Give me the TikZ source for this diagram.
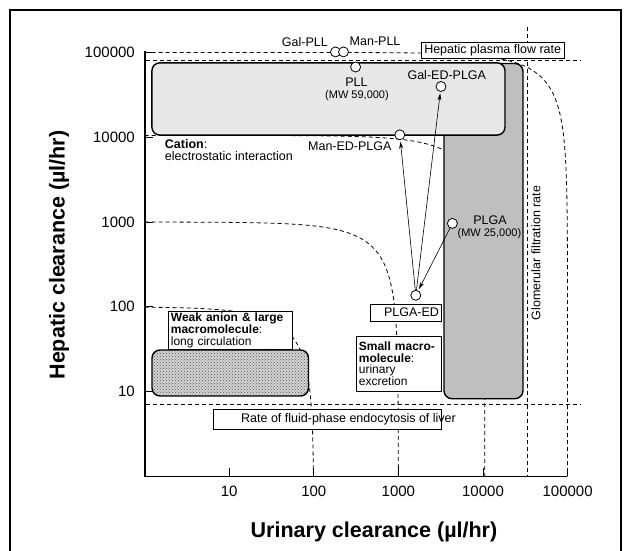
\documentclass[tikz,border=0pt]{standalone}
\usepackage{fontspec}
\setmainfont{Liberation Sans}
\usetikzlibrary{arrows.meta,patterns}
\newcommand\isocl[2]{%
  \draw[dl] plot[domain=0:#2, samples=90, variable=\t] ({\t},{#1+log10(1-10^(\t-#1))})
    -- plot[domain=#2:0, samples=90, variable=\t] ({#1+log10(1-10^(\t-#1))},{\t});}
\begin{document}
\begin{tikzpicture}[x=1pt,y=-1pt,
  lab/.style={font=\fontsize{12.5}{14}\selectfont, inner sep=0pt},
  smalllab/.style={font=\fontsize{11}{12}\selectfont, inner sep=0pt},
  ticklab/.style={font=\fontsize{15}{16}\selectfont, inner sep=0pt},
  axtitle/.style={font=\bfseries\fontsize{21.5}{24}\selectfont, inner sep=0pt},
  box/.style={draw, fill=white, line width=0.8pt},
  dl/.style={dash pattern=on 4pt off 3pt, line width=0.8pt},
  marker/.style={circle, draw, fill=white, minimum size=10pt, inner sep=0pt, line width=0.8pt},
  arr/.style={-{Stealth[length=7pt,width=4pt]}, line width=0.6pt, shorten >=1.5pt},
  region/.style={rounded corners=8pt, line width=1.4pt}]
\useasboundingbox (0,0) rectangle (630,550);
% frame
\draw[line width=2pt] (10,551) -- (10,10) -- (621,10) -- (621,551);
% iso-clearance curves in log-log data coordinates
\begin{scope}[shift={(144.6,476.4)}, x=84.6pt, y=84.8pt]
  \isocl{2}{1.699}
  \isocl{3}{2.699}
  \isocl{4.0212}{3.7202}
  \isocl{5}{4.699}
\end{scope}
% straight reference lines
\draw[dl] (146,60.7) -- (580.5,60.7);
\draw[dl] (527.5,27) -- (527.5,476.4);
\draw[dl] (146,404.7) -- (580.5,404.7);
% regions
\draw[region, fill=gray!50] (444,63.5) rectangle (523,398.7);
\draw[region, fill=gray!18] (151.9,62.8) rectangle (505,135.1);
\fill[rounded corners=8pt, gray!35] (152,350) rectangle (308.5,396);
\fill[rounded corners=8pt, pattern=crosshatch dots, pattern color=gray!70!black] (152,350) rectangle (308.5,396);
\draw[region] (152,350) rectangle (308.5,396);
% axes
\draw[line width=1.4pt] (145,50.5) -- (145,476.4) -- (567,476.4);
\begin{scope}[shift={(144.6,476.4)}, x=84.6pt, y=84.8pt]
  \foreach \i in {1,...,5} {
    \draw[line width=1pt] (\i,0) -- ++(0,0.1);
    \draw[line width=1pt] (0,\i) -- ++(0.1,0);
  }
\end{scope}
% tick labels
\node[ticklab, anchor=east] (y10) at (135,391.6) {10};
\node[ticklab, anchor=east] (y100) at (135,306.8) {100};
\node[ticklab, anchor=east] (y1000) at (135,222) {1000};
\node[ticklab, anchor=east] (y10000) at (135,137.2) {10000};
\node[ticklab, anchor=east] (y100000) at (135,52.4) {100000};
\node[ticklab] (x10) at (229.2,491) {10};
\node[ticklab] (x100) at (313.8,491) {100};
\node[ticklab] (x1000) at (398.4,491) {1000};
\node[ticklab] (x10000) at (483,491) {10000};
\node[ticklab] (x100000) at (567.6,491) {100000};
% axis titles
\node[axtitle, rotate=90] (ytitle) at (59,255) {Hepatic clearance (µl/hr)};
\node[axtitle] (xtitle) at (374,532) {Urinary clearance (µl/hr)};
% label boxes
\node[box, lab, minimum width=143.5pt, minimum height=16pt] (hpf) at (492.7,50.2) {Hepatic plasma flow rate};
\node[box, minimum width=228pt, minimum height=20.5pt] (rbox) at (327,419.2) {};
\node[lab] (rtext) at (348.5,419.2) {Rate of fluid-phase endocytosis of liver};
\node[lab, rotate=90] (gfr) at (536,253) {Glomerular filtration rate};
\node[box, font=\fontsize{12}{12}\selectfont, anchor=north west, text width=119pt, inner xsep=2.5pt, inner ysep=1.5pt, minimum height=38pt, align=left] (weak) at (168,310.5)
  {\textbf{Weak anion \& large}\\\textbf{macromolecule}:\\long circulation};
\node[box, font=\fontsize{12}{11.5}\selectfont, anchor=north west, text width=80pt, inner xsep=2.5pt, inner ysep=2pt, minimum height=55pt, align=left] (small) at (356,336)
  {\textbf{Small macro-}\\\textbf{molecule}:\\urinary\\excretion};
\node[box, lab, anchor=north west, text width=65.6pt, inner xsep=2.5pt, minimum height=17pt, align=right] (plgaedbox) at (370.4,303.5) {PLGA-ED};
\node[lab, anchor=north west, align=left, font=\fontsize{12.5}{12}\selectfont] (cation) at (164.7,139.5) {\textbf{Cation}:\\electrostatic interaction};
% markers
\node[marker] (galpll) at (335.5,51.9) {};
\node[marker] (manpll) at (343.5,51.9) {};
\node[marker] (pll) at (355.6,67) {};
\node[marker] (galedplga) at (441,86.5) {};
\node[marker] (manedplga) at (399.8,134.8) {};
\node[marker] (plga) at (452.4,223.4) {};
\node[marker] (plgaed) at (415.8,295.3) {};
% marker labels
\node[lab, anchor=east] (galplllab) at (328,42) {Gal-PLL};
\node[lab, anchor=west] (manplllab) at (349.5,41.5) {Man-PLL};
\node[lab] (plllab) at (356.4,82) {PLL};
\node[smalllab] (pllmw) at (357,96) {(MW 59,000)};
\node[lab] (galedlab) at (446.8,75.2) {Gal-ED-PLGA};
\node[lab, anchor=east] (manedlab) at (391.7,146.4) {Man-ED-PLGA};
\node[lab] (plgalab) at (490,220.5) {PLGA};
\node[smalllab] (plgamw) at (489.4,233.6) {(MW 25,000)};
% arrows
\draw[arr] (plgaed) -- (manedplga);
\draw[arr] (plgaed) -- (galedplga);
\draw[arr] (plga) -- (plgaed);
\end{tikzpicture}
\end{document}
